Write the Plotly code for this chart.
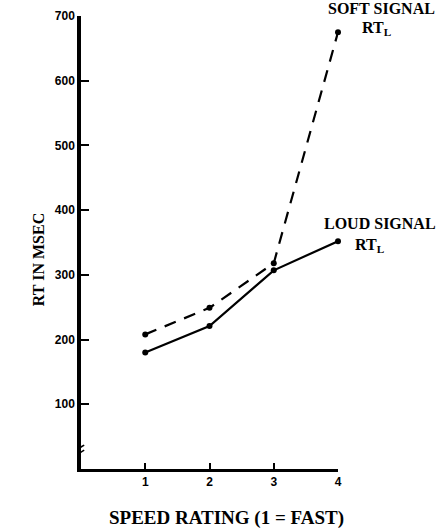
import plotly.graph_objects as go

speed = [1, 2, 3, 4]
soft_rt = [208, 249, 318, 675]
loud_rt = [180, 221, 307, 352]
x_ticks = [1, 2, 3, 4]
y_ticks = [100, 200, 300, 400, 500, 600, 700]

serif = "Liberation Serif"
tickfont = dict(family="Liberation Sans", size=12, color="black", weight="bold")

fig = go.Figure()
fig.add_trace(go.Scatter(x=speed, y=soft_rt, mode="lines+markers",
                         line=dict(color="black", width=2.2, dash="12px,9px"),
                         marker=dict(color="black", size=6), name="SOFT SIGNAL",
                         cliponaxis=False))
fig.add_trace(go.Scatter(x=speed, y=loud_rt, mode="lines+markers",
                         line=dict(color="black", width=2.2),
                         marker=dict(color="black", size=6), name="LOUD SIGNAL",
                         cliponaxis=False))

fig.update_layout(
    width=438, height=532,
    margin=dict(l=81, r=100, t=16, b=63),
    plot_bgcolor="white", paper_bgcolor="white",
    showlegend=False,
    xaxis=dict(range=[0, 4], tickvals=x_ticks, ticktext=[str(v) for v in x_ticks],
               ticks="inside", ticklen=6, tickwidth=1.5, tickcolor="black",
               showline=True, linecolor="black", linewidth=3, showgrid=False,
               zeroline=False, tickfont=tickfont, automargin=False),
    yaxis=dict(range=[0, 700], tickvals=y_ticks, ticktext=[str(v) for v in y_ticks],
               ticks="inside", ticklen=8, tickwidth=1.5, tickcolor="black",
               showline=True, linecolor="black", linewidth=3.5, showgrid=False,
               zeroline=False, tickfont=tickfont, automargin=False),
)

# axis titles
fig.add_annotation(text="SPEED RATING (1 = FAST)", xref="paper", yref="paper",
                   x=0.5, y=-0.108, xshift=17, showarrow=False,
                   xanchor="center", yanchor="middle",
                   font=dict(family=serif, size=19, color="black", weight="bold"))
fig.add_annotation(text="RT IN MSEC", xref="paper", yref="paper",
                   x=0, y=0.461, xshift=-43, showarrow=False, textangle=-90,
                   xanchor="center", yanchor="middle",
                   font=dict(family=serif, size=16, color="black", weight="bold"))

# axis break marks
for yb in (26, 34):
    fig.add_shape(type="line", xref="x", yref="y", x0=-0.05, x1=0.05,
                  y0=yb - 3, y1=yb + 3, line=dict(color="black", width=1.5))

lab_font = dict(family=serif, size=16, color="black", weight="bold")
fig.add_annotation(x=4, y=soft_rt[3], xref="x", yref="y", text="SOFT SIGNAL",
                   showarrow=False, xanchor="right", yanchor="middle",
                   xshift=99, yshift=24, font=lab_font)
fig.add_annotation(x=4, y=soft_rt[3], xref="x", yref="y", text="RT<sub>L</sub>",
                   showarrow=False, xanchor="left", yanchor="middle",
                   xshift=22, yshift=4, font=lab_font)
fig.add_annotation(x=4, y=loud_rt[3], xref="x", yref="y", text="LOUD SIGNAL",
                   showarrow=False, xanchor="right", yanchor="middle",
                   xshift=100, yshift=18, font=lab_font)
fig.add_annotation(x=4, y=loud_rt[3], xref="x", yref="y", text="RT<sub>L</sub>",
                   showarrow=False, xanchor="left", yanchor="middle",
                   xshift=15, yshift=-4, font=lab_font)

fig.write_html("out.html", config={"displayModeBar": False},
               post_script="document.body.style.margin='0px';document.body.style.overflow='hidden';")
